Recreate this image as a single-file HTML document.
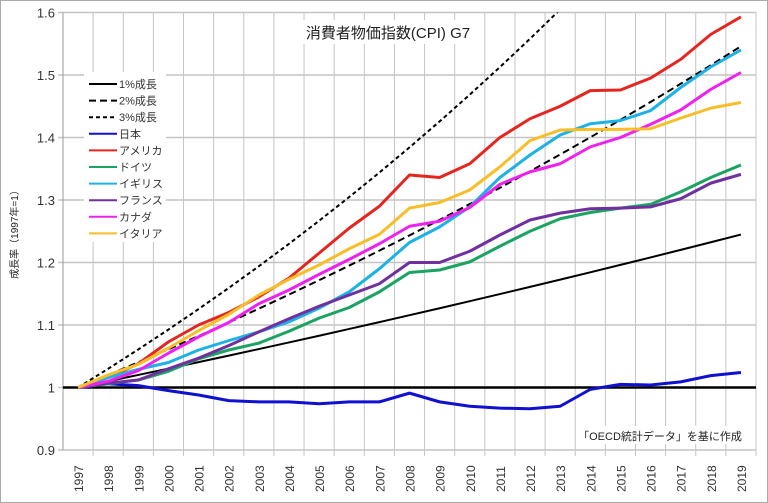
<!DOCTYPE html>
<html><head><meta charset="utf-8">
<style>
html,body{margin:0;padding:0;background:#fff}
svg{display:block;font-family:"Liberation Sans","Noto Sans CJK JP",sans-serif}
</style></head>
<body>
<svg id="chart" width="768" height="503" viewBox="0 0 768 503">
<rect x="0.5" y="0.5" width="767" height="502" fill="#fff" stroke="#aaa"/>
<g id="grid"></g>
<g id="series"></g>
<g id="axes"></g>
<rect x="298" y="20" width="180" height="24" fill="#fff"/>
<text x="388" y="38" text-anchor="middle" font-size="15" fill="#222">消費者物価指数(CPI) G7</text>
<text transform="translate(18,232) rotate(-90)" text-anchor="middle" font-size="10" fill="#222">成長率（1997年=1）</text>
<rect x="576" y="426" width="170" height="18" fill="#fff"/>
<text x="660" y="440" text-anchor="middle" font-size="11" fill="#222">「OECD統計データ」を基に作成</text>
<g id="legend"></g>
</svg>
<script>
const years = [1997,1998,1999,2000,2001,2002,2003,2004,2005,2006,2007,2008,2009,2010,2011,2012,2013,2014,2015,2016,2017,2018,2019];
const yTicks = [0.9,1.0,1.1,1.2,1.3,1.4,1.5,1.6];
const yTickLabels = ["0.9","1","1.1","1.2","1.3","1.4","1.5","1.6"];
const growthRates = [0.01,0.02,0.03];
const growthNames = ["1%成長","2%成長","3%成長"];
const japan   = [1,1.006,1.003,0.995,0.988,0.979,0.977,0.977,0.974,0.977,0.977,0.991,0.977,0.970,0.967,0.966,0.970,0.997,1.005,1.004,1.009,1.019,1.024];
const usa     = [1,1.016,1.038,1.073,1.100,1.120,1.145,1.175,1.215,1.255,1.290,1.340,1.336,1.358,1.400,1.430,1.450,1.475,1.476,1.495,1.525,1.565,1.593];
const germany = [1,1.006,1.012,1.026,1.046,1.060,1.071,1.090,1.111,1.128,1.153,1.184,1.188,1.201,1.226,1.250,1.270,1.280,1.287,1.293,1.313,1.336,1.356];
const uk      = [1,1.016,1.029,1.040,1.060,1.075,1.089,1.105,1.127,1.153,1.190,1.232,1.257,1.289,1.336,1.372,1.404,1.422,1.427,1.443,1.480,1.513,1.540];
const france  = [1,1.007,1.012,1.030,1.047,1.067,1.089,1.110,1.130,1.148,1.166,1.200,1.200,1.218,1.244,1.268,1.279,1.286,1.287,1.289,1.302,1.327,1.341];
const canada  = [1,1.010,1.027,1.055,1.081,1.104,1.134,1.156,1.181,1.205,1.230,1.258,1.266,1.288,1.325,1.345,1.358,1.385,1.400,1.421,1.444,1.477,1.504];
const italy   = [1,1.020,1.037,1.063,1.091,1.117,1.148,1.173,1.196,1.222,1.245,1.287,1.296,1.316,1.353,1.395,1.412,1.413,1.413,1.414,1.431,1.447,1.456];
const countryNames = ["日本","アメリカ","ドイツ","イギリス","フランス","カナダ","イタリア"];
const countryColors = ["#1010d0","#e52620","#1ba362","#1cb2e6","#7030a0","#ee22ee","#f7be28"];
const countrySeries = [japan,usa,germany,uk,france,canada,italy];

const NS="http://www.w3.org/2000/svg";
const L=63,R=756,T=12.5,B=450,yMin=0.9,yMax=1.6;
const bw=(R-L)/years.length;
const xS=i=>L+bw*(i+0.5);
const yS=v=>B-(v-yMin)/(yMax-yMin)*(B-T);
function mk(tag,attrs,parent){const e=document.createElementNS(NS,tag);for(const k in attrs)e.setAttribute(k,attrs[k]);parent.appendChild(e);return e;}
const grid=document.getElementById('grid'),axes=document.getElementById('axes'),ser=document.getElementById('series'),leg=document.getElementById('legend');

yTicks.forEach((v,i)=>{
  const ln=mk('line',{x1:L-5,x2:R,y1:yS(v),y2:yS(v),stroke:'#c4c4c4','stroke-width':1.5},grid);
  
  
  const t=mk('text',{x:L-8,y:yS(v)+5,'text-anchor':'end','font-size':13,fill:'#333'},axes);
  t.textContent=yTickLabels[i];
  
  
});
for(let i=0;i<=years.length;i++){
  const x=L+bw*i;
  const ln=mk('line',{x1:x,x2:x,y1:T,y2:B+(i>0?6:0),stroke:i==0?'#999':'#c4c4c4','stroke-width':1},grid);
  
  
}
years.forEach((y,i)=>{
  const t=mk('text',{transform:`translate(${xS(i)+5},492) rotate(-90)`,'font-size':12,fill:'#333'},axes);
  t.textContent=y;
  
  
});

const dashes=["","7,4","4,3"];
growthRates.forEach((r,k)=>{
  const pts=years.map((y,i)=>[xS(i),yS(Math.pow(1+r,i))]);
  const p=mk('polyline',{points:pts.map(q=>q.join(',')).join(' '),fill:'none',stroke:'#000','stroke-width':2,'stroke-dasharray':dashes[k],'clip-path':'url(#clip)'},ser);
  
  
});
const defs=mk('defs',{},document.getElementById('chart'));
const cp=mk('clipPath',{id:'clip'},defs);
mk('rect',{x:L,y:T,width:R-L,height:B-T},cp);
const base=mk('line',{x1:L,x2:R,y1:yS(1),y2:yS(1),stroke:'#000','stroke-width':2.5},ser);


countrySeries.forEach((s,k)=>{
  const p=mk('polyline',{points:s.map((v,i)=>xS(i)+','+yS(v)).join(' '),fill:'none',stroke:countryColors[k],'stroke-width':3,'stroke-linejoin':'round'},ser);
  
  
});

const lb=mk('rect',{x:84,y:72,width:82,height:170,fill:'#fff'},leg);


const names=growthNames.concat(countryNames);
names.forEach((n,i)=>{
  const y=84+i*16.6;
  const col=i<3?'#000':countryColors[i-3];
  const ln=mk('line',{x1:89,x2:117,y1:y,y2:y,stroke:col,'stroke-width':i<3?2:2,'stroke-dasharray':i<3?dashes[i]:''},leg);
  
  
  const t=mk('text',{x:119,y:y+4,'font-size':11,fill:'#333'},leg);
  t.textContent=n;
  
  
});
</script>
</body></html>
